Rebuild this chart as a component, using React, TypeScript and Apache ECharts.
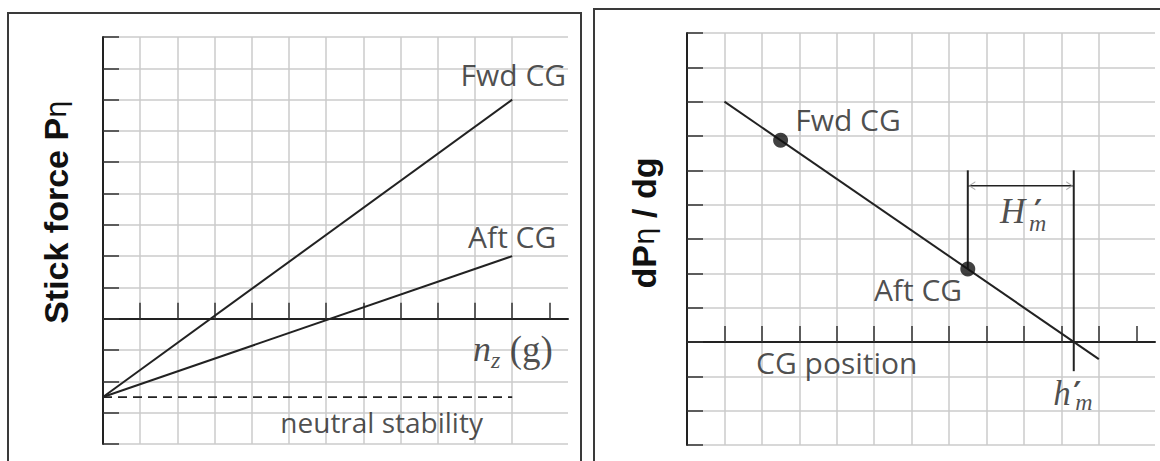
import { useEffect, useRef } from "react";
import * as echarts from "echarts";

// ---- Left panel: stick force vs load factor ----
const loadFactor = [0, 11];
const fwdCgForce = [-2.5, 7];
const aftCgForce = [-2.5, 2];
const neutralForce = [-2.5, -2.5];

// ---- Right panel: stick force per g vs CG position ----
const cgPosition = [1, 11];
const forcePerG = [7, -0.5];
const fwdCgPoint = [2.5, 5.875];
const aftCgPoint = [7.5, 2.125];
const neutralPointX = 10.33;
const guideTop = 5;
const guideBottom = -0.85;
const marginArrowY = 4.55;

// Grid ranges and inner tick positions
const xRange = [0, 12.5];
const leftYRange = [-4, 9];
const rightYRange = [-3, 9];
const xTickValues = [1, 2, 3, 4, 5, 6, 7, 8, 9, 10, 11, 12];

// Annotations in data units: [text, x, y, style]
const leftNotes: [string, number, number, string][] = [
  ["Fwd CG", 11.03, 7.8, "sans"],
  ["Aft CG", 11.0, 2.62, "sans"],
  ["{n|n}{z|z}{g| (g)}", 11.02, -0.98, "math"],
  ["neutral stability", 7.49, -3.3, "small"],
];
const rightNotes: [string, number, number, string][] = [
  ["Fwd CG", 4.3, 6.47, "sans"],
  ["Aft CG", 6.17, 1.54, "sans"],
  ["CG position", 4.0, -0.6, "sans"],
  // stacked prime / subscript: first line base + prime, second line the index
  ["{H|H}{p|′}\n{Hs| }{m|m}", 8.36, 3.96, "marginUpper"],
  ["{h|h}{p|′}\n{hs| }{m|m}", 9.78, -1.37, "marginLower"],
];

const INK = "#222";
const TEXT = "#1f1f1f";
const SERIF = "'Liberation Serif', 'DejaVu Serif', serif";
const SANS = "'Open Sans', 'Noto Sans', sans-serif";

const primeStyle = { fontFamily: "'DejaVu Serif', serif", fontWeight: "bold", fontSize: 31, color: TEXT };
const indexStyle = { fontFamily: SERIF, fontStyle: "italic", fontSize: 24, color: TEXT };
const baseStyle = { fontFamily: SERIF, fontStyle: "italic", fontSize: 35, color: TEXT };

const labelStyles: Record<string, any> = {
  sans: { fontFamily: SANS, fontSize: 30, color: TEXT },
  small: { fontFamily: SANS, fontSize: 28, color: TEXT },
  marginUpper: {
    align: "left",
    verticalAlign: "top",
    rich: {
      H: { ...baseStyle, width: 34, lineHeight: 10 },
      p: { ...primeStyle, lineHeight: 10 },
      Hs: { fontSize: 10, width: 29, lineHeight: 14 },
      m: { ...indexStyle, lineHeight: 14 },
    },
  },
  marginLower: {
    align: "left",
    verticalAlign: "top",
    rich: {
      h: { ...baseStyle, width: 20, lineHeight: 8 },
      p: { ...primeStyle, lineHeight: 8 },
      hs: { fontSize: 10, width: 22, lineHeight: 10 },
      m: { ...indexStyle, lineHeight: 10 },
    },
  },
  math: {
    color: TEXT,
    rich: {
      n: { fontFamily: SERIF, fontStyle: "italic", fontSize: 36, lineHeight: 46, color: TEXT },
      z: { fontFamily: SERIF, fontStyle: "italic", fontSize: 24, lineHeight: 22, verticalAlign: "bottom", color: TEXT },
      g: { fontFamily: SERIF, fontSize: 37, lineHeight: 46, color: TEXT },
    },
  },
};

function pairs(xs: number[], ys: number[]) {
  return xs.map((x, i) => [x, ys[i]]);
}

function xAxis(gridIndex: number) {
  return {
    type: "value",
    gridIndex,
    min: xRange[0],
    max: xRange[1],
    interval: 1,
    axisLine: { show: true, onZero: true, lineStyle: { color: INK, width: 2 } },
    axisTick: {
      show: true,
      inside: true,
      length: 16,
      customValues: xTickValues,
      lineStyle: { color: "#333", width: 1.5 },
    },
    axisLabel: { show: false },
    splitLine: { show: true, showMaxLine: false, lineStyle: { color: "#cbcbcb", width: 1.5 } },
  };
}

function yAxis(gridIndex: number, range: number[]) {
  return {
    type: "value",
    gridIndex,
    min: range[0],
    max: range[1],
    interval: 1,
    axisLine: { show: true, onZero: false, lineStyle: { color: INK, width: 2 } },
    axisTick: { show: true, inside: true, length: 16, lineStyle: { color: "#333", width: 1.5 } },
    axisLabel: { show: false },
    splitLine: { show: true, lineStyle: { color: "#cbcbcb", width: 1.5 } },
  };
}

function lineSeries(axis: number, data: number[][], extra: any = {}) {
  return {
    type: "line",
    xAxisIndex: axis,
    yAxisIndex: axis,
    data,
    symbol: "none",
    silent: true,
    lineStyle: { color: INK, width: 2, ...(extra.lineStyle || {}) },
    z: 5,
  };
}

function noteSeries(axis: number, notes: [string, number, number, string][]) {
  return {
    type: "scatter",
    xAxisIndex: axis,
    yAxisIndex: axis,
    symbolSize: 1,
    itemStyle: { color: "rgba(0,0,0,0)" },
    silent: true,
    z: 10,
    data: notes.map(([text, x, y, style]) => ({
      value: [x, y],
      label: {
        show: true,
        position: "inside",
        align: "center",
        verticalAlign: "middle",
        formatter: text,
        ...labelStyles[style],
      },
    })),
  };
}

const titleRich = {
  b: { fontFamily: "'Liberation Sans', Arial, sans-serif", fontWeight: "bold", fontSize: 34, fill: "#111" },
  e: { fontFamily: "'DejaVu Sans', sans-serif", fontSize: 28, fill: "#111" },
};

export default function App() {
  const ref = useRef<HTMLDivElement>(null);

  useEffect(() => {
    if (!ref.current) return;
    const chart = echarts.init(ref.current, undefined, { renderer: "svg" });

    chart.setOption({
      animation: false,
      backgroundColor: "#fff",
      grid: [
        { left: 103, top: 37, width: 465, height: 407 },
        { left: 687, top: 33, width: 468, height: 412 },
      ],
      xAxis: [xAxis(0), xAxis(1)],
      yAxis: [yAxis(0, leftYRange), yAxis(1, rightYRange)],
      graphic: [
        {
          type: "rect",
          shape: { x: 8, y: 13, width: 573, height: 480 },
          style: { fill: "none", stroke: "#3a3a3a", lineWidth: 2 },
        },
        {
          type: "rect",
          shape: { x: 594, y: 9, width: 620, height: 480 },
          style: { fill: "none", stroke: "#3a3a3a", lineWidth: 2 },
        },
        {
          type: "text",
          x: 56,
          y: 212,
          rotation: Math.PI / 2,
          style: {
            text: "{b|Stick force P}{e|η}",
            align: "center",
            verticalAlign: "middle",
            rich: titleRich,
          },
        },
        {
          type: "text",
          x: 644,
          y: 223,
          rotation: Math.PI / 2,
          style: {
            text: "{b|dP}{e|η}{b| / dg}",
            align: "center",
            verticalAlign: "middle",
            rich: titleRich,
          },
        },
      ],
      series: [
        // Left panel
        lineSeries(0, pairs(loadFactor, fwdCgForce)),
        lineSeries(0, pairs(loadFactor, aftCgForce)),
        lineSeries(0, pairs(loadFactor, neutralForce), { lineStyle: { type: [9, 6], width: 1.8 } }),
        noteSeries(0, leftNotes),

        // Right panel
        lineSeries(1, pairs(cgPosition, forcePerG)),
        lineSeries(1, [
          [aftCgPoint[0], guideTop],
          [aftCgPoint[0], aftCgPoint[1]],
        ]),
        lineSeries(1, [
          [neutralPointX, guideTop],
          [neutralPointX, guideBottom],
        ]),
        lineSeries(1, [
          [aftCgPoint[0], marginArrowY],
          [neutralPointX, marginArrowY],
        ], { lineStyle: { width: 1.6 } }),
        {
          type: "scatter",
          xAxisIndex: 1,
          yAxisIndex: 1,
          silent: true,
          z: 6,
          symbolSize: [7, 9],
          itemStyle: { color: "#9a9a9a" },
          data: [
            {
              value: [aftCgPoint[0], marginArrowY],
              symbol: "path://M10,0 L0,5 L10,10 L10,8.6 L2.8,5 L10,1.4 Z",
              symbolOffset: [4, 0],
            },
            {
              value: [neutralPointX, marginArrowY],
              symbol: "path://M0,0 L10,5 L0,10 L0,8.6 L7.2,5 L0,1.4 Z",
              symbolOffset: [-4, 0],
            },
          ],
        },
        {
          type: "scatter",
          xAxisIndex: 1,
          yAxisIndex: 1,
          silent: true,
          z: 7,
          symbolSize: 15,
          itemStyle: { color: "#111" },
          data: [fwdCgPoint, aftCgPoint],
        },
        noteSeries(1, rightNotes),
      ],
    });

    return () => chart.dispose();
  }, []);

  return (
    <div
      ref={ref}
      style={{ position: "absolute", left: 0, top: 0, width: 1160, height: 461, background: "#fff" }}
    />
  );
}
